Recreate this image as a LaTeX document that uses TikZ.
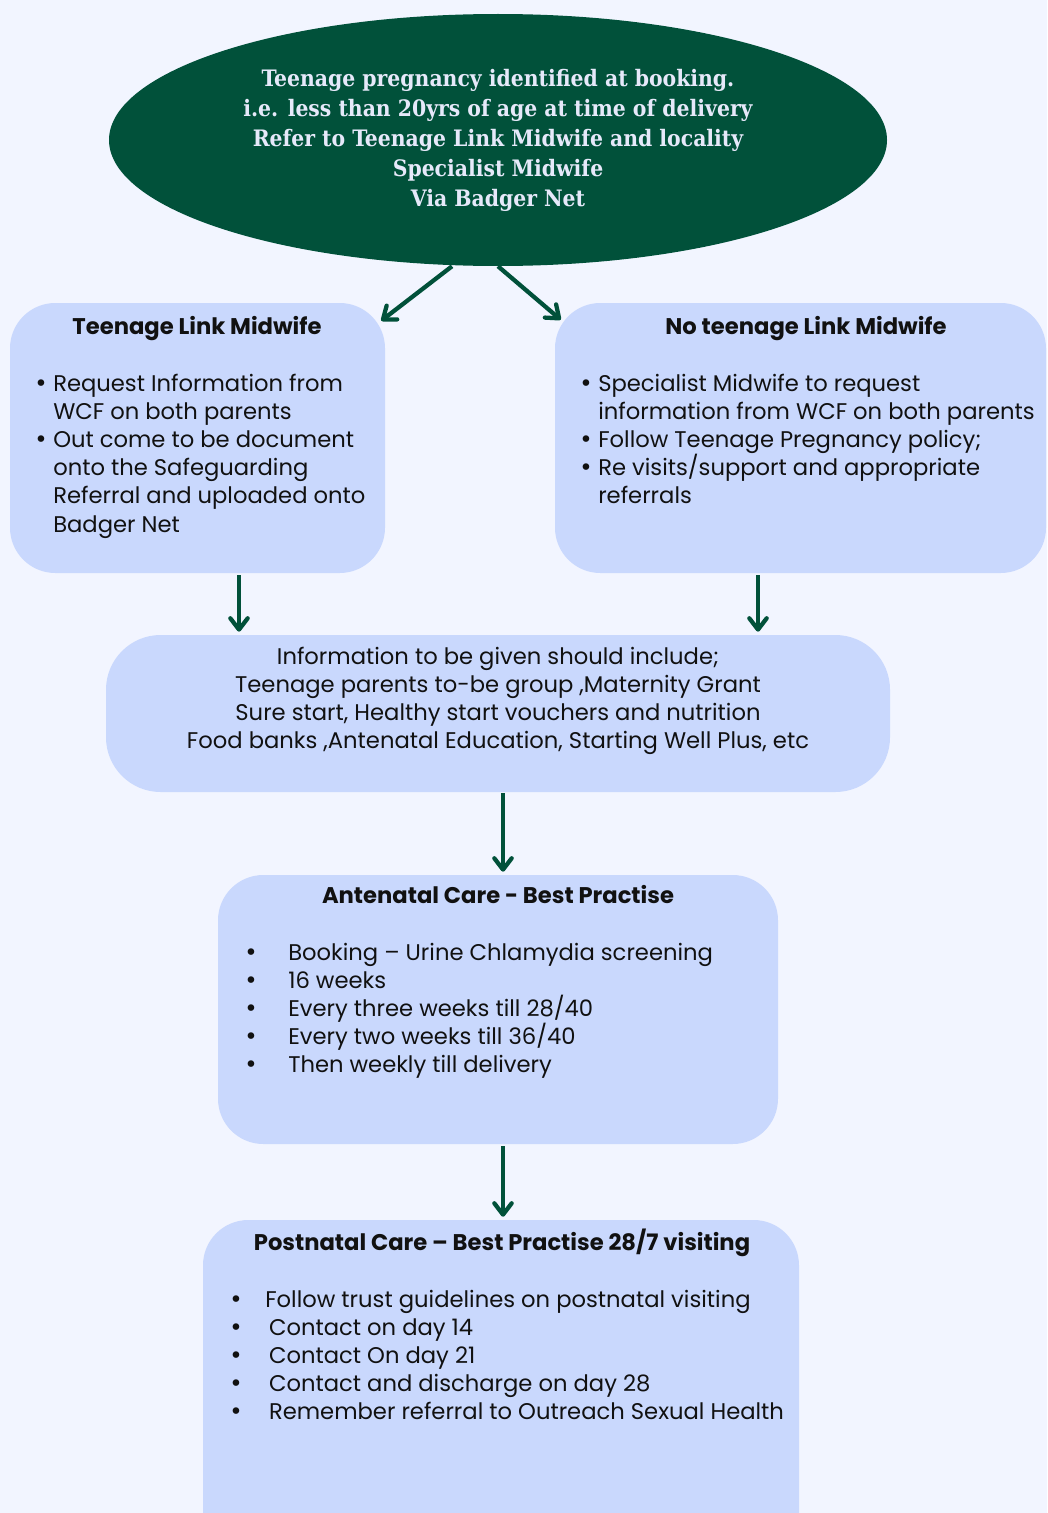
\documentclass[tikz,border=0pt]{standalone}
\usepackage{fontspec}
\setmainfont{Poppins}
\newfontfamily\ellfont{DejaVu Serif Condensed}
\newfontfamily\bulfont{DejaVu Sans}
\usetikzlibrary{arrows.meta,shapes.geometric,calc}
\definecolor{bg}{HTML}{F2F5FF}
\definecolor{boxc}{HTML}{C9D8FD}
\definecolor{dgreen}{HTML}{01513A}
\definecolor{elltext}{HTML}{E6E9FA}
\definecolor{txt}{HTML}{111111}
\newcommand\bdot{{\bulfont •}}
\newcommand\bulA{\strut\makebox[14.25pt][l]{\bdot}}
\newcommand\indA{\strut\hspace*{14.25pt}}
\newcommand\bulB{\strut\makebox[33pt][l]{\bdot}}
\newcommand\bulC{\strut\makebox[27pt][l]{\bdot}}
\newcommand\bodyfont{\fontsize{17}{21.15}\selectfont\lineskiplimit -30pt\relax}
\newcommand\ellsize{\ellfont\bfseries\fontsize{17}{22.5}\selectfont\lineskiplimit -30pt\relax}
\begin{document}
\begin{tikzpicture}[x=0.75pt,y=-0.75pt,
  card/.style={fill=boxc, rounded corners=34pt, inner sep=0, rectangle},
  body/.style={font=\bodyfont, text=txt, align=left, anchor=north west, inner sep=0},
  ctr/.style={font=\bodyfont, text=txt, align=center, anchor=north, inner sep=0},
  head/.style={font=\bfseries\bodyfont, text=txt, inner sep=0, anchor=base},
  arr/.style={draw=dgreen, line width=3.2pt, -{Straight Barb[length=8.5pt, width=13pt, line cap=round, line join=round]}}]
\clip (0,0) rectangle (1047,1513);
\fill[bg] (0,0) rectangle (1047,1513);
\useasboundingbox (0,0) rectangle (1047,1513);

\node[ellipse, fill=dgreen, minimum width=583.5pt, minimum height=189pt, inner sep=0,
  text=elltext, align=center, font=\ellsize] (ell) at (498,140)
  {Teenage pregnancy identified at booking.\\ i.e. less than 20yrs of age at time of delivery\\ Refer to Teenage Link Midwife and locality\\ Specialist Midwife\\ Via Badger Net};

\node[card, minimum width=281.25pt, minimum height=202.5pt] (tlm) at (197.5,438) {};
\node[card, minimum width=368.25pt, minimum height=202.5pt] (ntl) at (800.5,438) {};
\node[card, rounded corners=41pt, minimum width=588pt, minimum height=117.75pt] (info) at (498,713.5) {};
\node[card, minimum width=420pt, minimum height=201.75pt] (ante) at (498,1009.5) {};
\node[card, minimum width=447pt, minimum height=255pt] (post) at (501,1390) {};

\node[head] (tlmh) at (197,334) {Teenage Link Midwife};
\node[body] (tlmb) at (34,371) {\bulA Request Information from\\ \indA WCF on both parents\\ \bulA Out come to be document\\ \indA onto the Safeguarding\\ \indA Referral and uploaded onto\\ \indA Badger Net};

\node[head] (ntlh) at (806,334) {No teenage Link Midwife};
\node[body] (ntlb) at (579,371) {\bulA Specialist Midwife to request\\ \indA information from WCF on both parents\\ \bulA Follow Teenage Pregnancy policy;\\ \bulA Re visits/support and appropriate\\ \indA referrals};

\node[ctr] (infob) at (498,644) {\strut Information to be given should include;\\ Teenage parents to-be group ,Maternity Grant\\ Sure start, Healthy start vouchers and nutrition\\ Food banks ,Antenatal Education, Starting Well Plus, etc};

\node[head] (anteh) at (498,903) {Antenatal Care - Best Practise};
\node[body] (anteb) at (244,940) {\bulB Booking -- Urine Chlamydia screening\\ \bulB 16 weeks\\ \bulB Every three weeks till 28/40\\ \bulB Every two weeks till 36/40\\ \bulB Then weekly till delivery};

\node[head] (posth) at (502,1250) {Postnatal Care -- Best Practise 28/7 visiting};
\node[body] (postb) at (229,1287) {\bulC Follow trust guidelines on postnatal visiting\\ \bulC \,Contact on day 14\\ \bulC \,Contact On day 21\\ \bulC \,Contact and discharge on day 28\\ \bulC \,Remember referral to Outreach Sexual Health};

\draw[arr] ($(ell.south)+(-46,0)$) -- ($(tlm.north east)+(-4,18)$);
\draw[arr] (ell.south) -- ($(ntl.north west)+(6,17)$);
\coordinate (la) at ($(tlm.south)+(41.5,2)$);
\coordinate (ra) at ($(ntl.south)+(-42.5,2)$);
\coordinate (ca) at ($(info.south)+(5,1)$);
\coordinate (da) at ($(ante.south)+(5,2)$);
\draw[arr] (la) -- ($(la |- info.north)+(0,-3)$);
\draw[arr] (ra) -- ($(ra |- info.north)+(0,-3)$);
\draw[arr] (ca) -- ($(ca |- ante.north)+(0,-3)$);
\draw[arr] (da) -- ($(da |- post.north)+(0,-3)$);
\end{tikzpicture}
\end{document}
